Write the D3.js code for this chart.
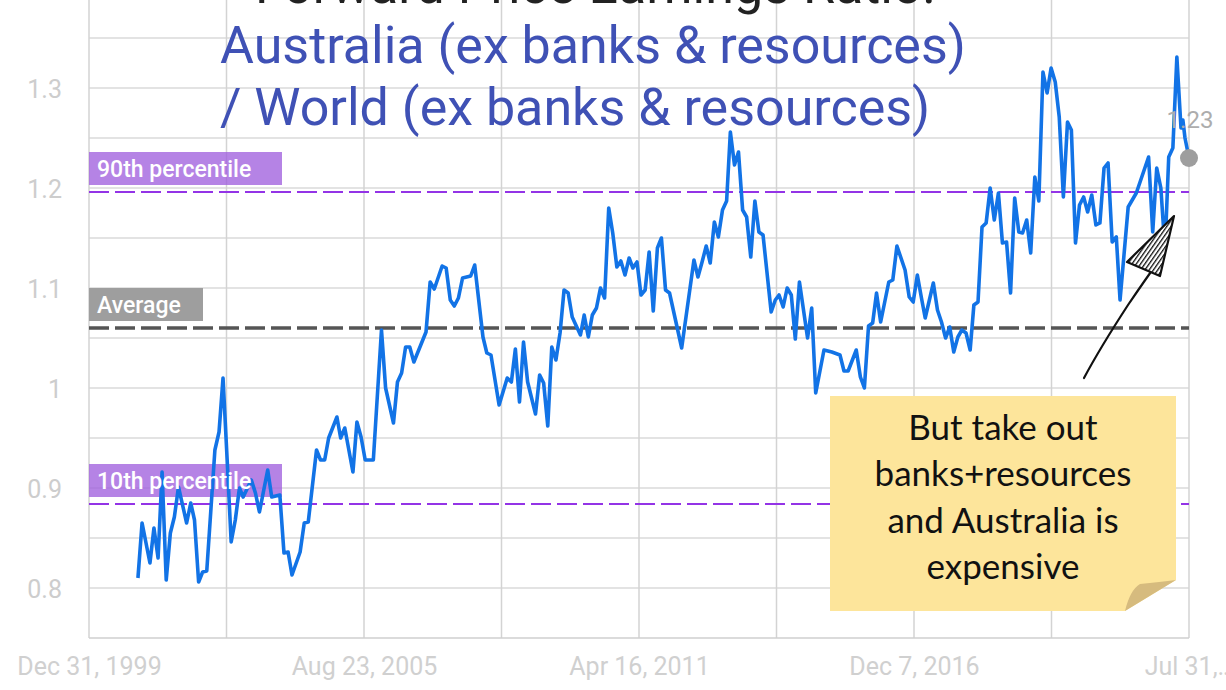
<!DOCTYPE html>
<html>
<head>
<meta charset="utf-8">
<script src="https://cdn.jsdelivr.net/npm/d3@7"></script>
<style>
  html, body { margin: 0; padding: 0; background: #ffffff; overflow: hidden; }
  svg { display: block; }
</style>
</head>
<body>
<svg id="chart" width="1226" height="690"></svg>
<script>
// ---------------- DATA ----------------
const titleLines = ["Forward Price Earnings Ratio:", "Australia (ex banks & resources)", "/ World (ex banks & resources)"];

const dates = [
  "2001-01","2001-02","2001-04","2001-05","2001-06","2001-07","2001-08","2001-09","2001-10","2001-11",
  "2002-01","2002-02","2002-03","2002-04","2002-05","2002-06","2002-08","2002-09","2002-10","2002-11","2002-12",
  "2003-01","2003-02","2003-03","2003-05","2003-06","2003-07","2003-09","2003-10","2003-12",
  "2004-01","2004-02","2004-03","2004-05","2004-06","2004-07","2004-09","2004-10","2004-11","2004-12",
  "2005-02","2005-03","2005-04","2005-06","2005-07","2005-08","2005-09","2005-11",
  "2006-01","2006-02","2006-04","2006-05","2006-06","2006-07","2006-08","2006-09","2006-12",
  "2007-01","2007-02","2007-04","2007-05","2007-06","2007-07","2007-08","2007-09","2007-11","2007-12",
  "2008-02","2008-03","2008-04","2008-06","2008-08","2008-09","2008-10","2008-11","2008-12",
  "2009-01","2009-03","2009-04","2009-05","2009-06","2009-07","2009-08","2009-09","2009-10","2009-11","2009-12",
  "2010-02","2010-03","2010-04","2010-05","2010-06","2010-07","2010-08","2010-09","2010-10","2010-11","2010-12",
  "2011-01","2011-02","2011-03","2011-04","2011-05","2011-06","2011-07","2011-08","2011-09","2011-10","2011-11","2011-12",
  "2012-03","2012-06","2012-07","2012-08","2012-09","2012-10","2012-11","2012-12",
  "2013-01","2013-02","2013-03","2013-04","2013-05","2013-06","2013-07","2013-08","2013-09","2013-10","2013-11",
  "2014-01","2014-02","2014-03","2014-04","2014-05","2014-06","2014-07","2014-08","2014-10","2014-11","2014-12",
  "2015-02","2015-04","2015-06","2015-07","2015-08","2015-10","2015-11","2015-12",
  "2016-01","2016-02","2016-03","2016-04","2016-06","2016-07","2016-08","2016-10","2016-11","2016-12",
  "2017-01","2017-02","2017-03","2017-05","2017-06","2017-07","2017-08","2017-09","2017-10","2017-11","2017-12",
  "2018-01","2018-02","2018-03","2018-04","2018-05","2018-06","2018-07","2018-08","2018-09","2018-10","2018-11","2018-12",
  "2019-01","2019-02","2019-03","2019-04","2019-05","2019-06","2019-07","2019-08","2019-09","2019-10","2019-11","2019-12",
  "2020-01","2020-02","2020-03","2020-04","2020-05","2020-06","2020-07","2020-08","2020-09","2020-10","2020-11","2020-12",
  "2021-01","2021-02","2021-03","2021-05","2021-07","2021-10","2021-11","2021-12",
  "2022-01","2022-02","2022-03","2022-04","2022-05","2022-06","2022-06-15","2022-07-01","2022-07-31"
];

const ratio = [
  0.810,0.865,0.825,0.860,0.830,0.916,0.808,0.855,0.871,0.901,
  0.865,0.885,0.868,0.806,0.816,0.817,0.938,0.956,1.010,0.928,0.846,
  0.868,0.900,0.891,0.908,0.895,0.876,0.918,0.891,0.893,
  0.835,0.836,0.813,0.836,0.865,0.866,0.938,0.928,0.928,0.950,
  0.971,0.950,0.960,0.916,0.966,0.951,0.928,0.928,
  1.058,1.000,0.965,1.006,1.015,1.041,1.041,1.026,1.056,
  1.106,1.099,1.122,1.120,1.088,1.082,1.090,1.110,1.112,1.123,
  1.051,1.035,1.033,0.983,1.010,1.006,1.039,0.986,1.046,
  1.006,0.974,1.013,1.005,0.962,1.041,1.028,1.055,1.098,1.095,1.071,
  1.053,1.073,1.051,1.073,1.080,1.100,1.090,1.180,1.155,1.121,1.127,
  1.113,1.130,1.120,1.126,1.093,1.098,1.136,1.077,1.140,1.150,1.098,1.095,
  1.040,1.128,1.111,1.126,1.142,1.125,1.166,1.151,
  1.178,1.187,1.256,1.223,1.236,1.178,1.171,1.131,1.187,1.156,1.153,
  1.076,1.088,1.093,1.081,1.100,1.093,1.049,1.106,1.050,1.080,0.995,
  1.038,1.036,1.033,1.017,1.017,1.038,1.011,1.000,
  1.062,1.065,1.095,1.066,1.106,1.108,1.142,1.118,1.091,1.086,
  1.113,1.090,1.070,1.105,1.078,1.066,1.050,1.061,1.036,1.051,1.058,
  1.055,1.038,1.083,1.086,1.161,1.165,1.200,1.168,1.195,1.145,1.146,1.095,
  1.190,1.156,1.155,1.168,1.135,1.211,1.187,1.316,1.295,1.320,1.306,1.271,
  1.191,1.266,1.258,1.145,1.183,1.191,1.176,1.193,1.163,1.165,1.220,1.225,
  1.146,1.151,1.088,1.181,1.195,1.231,1.156,1.220,
  1.200,1.138,1.231,1.240,1.331,1.260,1.268,1.250,1.230
];

const refNames  = ["90th percentile", "Average", "10th percentile"];
const refValues = [1.196, 1.06, 0.884];
const refColors = ["#9334e6", "#555555", "#9334e6"];
const refBoxColors = ["rgba(160,96,222,0.78)", "#9e9e9e", "rgba(160,96,222,0.78)"];

const yTickValues = [0.8, 0.9, 1.0, 1.1, 1.2, 1.3];
const yTickLabels = ["0.8", "0.9", "1", "1.1", "1.2", "1.3"];
const xTickDateStrings = ["1999-12-31", "2005-08-23", "2011-04-16", "2016-12-07", "2022-07-31"];
const xTickLabels = ["Dec 31, 1999", "Aug 23, 2005", "Apr 16, 2011", "Dec 7, 2016", "Jul 31,\u2026"];

const lastLabel = "1.23";
const noteLines = ["But take out", "banks+resources", "and Australia is", "expensive"];

// ---------------- CHART ----------------
const svg = d3.select("#chart");
const xTickDates = xTickDateStrings.map(s => new Date(s));

const x = d3.scaleUtc()
  .domain([xTickDates[0], xTickDates[xTickDates.length - 1]])
  .range([89, 1189]);
const y = d3.scaleLinear().domain([0.75, 1.40]).range([638, -12]);

// vertical grid: labelled dates plus midpoints
const xGrid = [];
xTickDates.forEach((d, i) => {
  xGrid.push(d);
  if (i < xTickDates.length - 1) xGrid.push(new Date((+d + +xTickDates[i + 1]) / 2));
});
const yGrid = d3.range(0.80, 1.41, 0.05);

const grid = svg.append("g");
grid.selectAll("line.h").data(yGrid).join("line")
  .attr("x1", 89).attr("x2", 1189)
  .attr("y1", d => y(d)).attr("y2", d => y(d))
  .attr("stroke", "#dadada").attr("stroke-width", 1.5);
grid.selectAll("line.v").data(xGrid).join("line")
  .attr("x1", d => x(d)).attr("x2", d => x(d))
  .attr("y1", 0).attr("y2", 638)
  .attr("stroke", "#d3d3d3").attr("stroke-width", 1.5);
svg.append("line").attr("x1", 89).attr("x2", 1189).attr("y1", y(0.75)).attr("y2", y(0.75))
  .attr("stroke", "#cfcfcf").attr("stroke-width", 1.5);

// y axis labels
const yAxis = d3.axisLeft(y).tickValues(yTickValues)
  .tickFormat((d, i) => yTickLabels[i]).tickSize(0).tickPadding(0);
const yAxisG = svg.append("g").attr("transform", "translate(62,0)").call(yAxis);
yAxisG.select(".domain").remove();
yAxisG.selectAll("text").attr("font-family", "Roboto, sans-serif").attr("font-size", 25)
  .attr("fill", "#cdcdcd").attr("dy", "0.36em");

// x axis labels
const xAxis = d3.axisBottom(x).tickValues(xTickDates)
  .tickFormat((d, i) => xTickLabels[i]).tickSize(0).tickPadding(0);
const xAxisG = svg.append("g").attr("transform", "translate(0,657)").call(xAxis);
xAxisG.select(".domain").remove();
xAxisG.selectAll("text").attr("font-family", "Roboto, sans-serif").attr("font-size", 25)
  .attr("fill", "#d0d0d0").attr("dy", "0.72em");

// title
const title = svg.append("g").attr("font-family", "Roboto, sans-serif").attr("font-size", 52);
title.append("text").attr("x", 255).attr("y", 3).attr("fill", "#222").text(titleLines[0]);
title.append("text").attr("x", 220).attr("y", 63).attr("fill", "#3f51b5").text(titleLines[1]);
title.append("text").attr("x", 220).attr("y", 125).attr("fill", "#3f51b5").text(titleLines[2]);

// reference lines
refValues.forEach((v, i) => {
  svg.append("line")
    .attr("x1", 89).attr("x2", 1189).attr("y1", y(v)).attr("y2", y(v))
    .attr("stroke", refColors[i])
    .attr("stroke-width", i === 1 ? 3.5 : 2)
    .attr("stroke-dasharray", "20,6");
});
const boxW = [193, 114, 193];
refValues.forEach((v, i) => {
  svg.append("rect")
    .attr("x", 89).attr("y", y(v) - 40).attr("width", boxW[i]).attr("height", 33)
    .attr("fill", refBoxColors[i]);
});

// data line
const data = dates.map((d, i) => ({ date: new Date(d), value: ratio[i] }));
const line = d3.line().x(d => x(d.date)).y(d => y(d.value));
svg.append("path").datum(data)
  .attr("d", line)
  .attr("fill", "none")
  .attr("stroke", "#1273e6")
  .attr("stroke-width", 3.6)
  .attr("stroke-linejoin", "round");

// reference label texts
refValues.forEach((v, i) => {
  svg.append("text")
    .attr("x", 97).attr("y", y(v) - 15)
    .attr("font-family", "Roboto, sans-serif").attr("font-size", 23).attr("font-weight", 500)
    .attr("fill", "#ffffff").text(refNames[i]);
});

// last value point + label
const last = data[data.length - 1];
svg.append("circle").attr("cx", x(last.date)).attr("cy", y(last.value)).attr("r", 9)
  .attr("fill", "#9e9e9e");
svg.append("text").attr("x", x(last.date) + 1).attr("y", y(last.value) - 30)
  .attr("text-anchor", "middle")
  .attr("font-family", "Roboto, sans-serif").attr("font-size", 24)
  .attr("fill", "#adadad").text(lastLabel);

// sticky note annotation
const note = svg.append("g");
note.append("path")
  .attr("d", "M830,396 L1176,396 L1176,580 L1125,611 L830,611 Z")
  .attr("fill", "#fde59b");
note.append("path")
  .attr("d", "M1125,611 Q1130,590 1140,584 Q1160,582 1176,580 Z")
  .attr("fill", "#d6bb7e");
noteLines.forEach((t, i) => {
  note.append("text")
    .attr("x", 1003).attr("y", 440 + i * 46.3)
    .attr("text-anchor", "middle")
    .attr("font-family", "Lato, sans-serif").attr("font-size", 35)
    .attr("fill", "#111").text(t);
});

// hand drawn arrow
const defs = svg.append("defs");
const pat = defs.append("pattern").attr("id", "hatch").attr("patternUnits", "userSpaceOnUse")
  .attr("width", 3.5).attr("height", 3.5).attr("patternTransform", "rotate(35)");
pat.append("rect").attr("width", 3.5).attr("height", 3.5).attr("fill", "#ffffff");
pat.append("line").attr("x1", 0).attr("y1", 0).attr("x2", 0).attr("y2", 3.5)
  .attr("stroke", "#111").attr("stroke-width", 2.6);
svg.append("path").attr("d", "M1084,378 Q1100,348 1128,305 Q1145,280 1158,262")
  .attr("fill", "none").attr("stroke", "#111").attr("stroke-width", 2.2).attr("stroke-linecap", "round");
svg.append("path").attr("d", "M1174,216 L1127,262 L1160,276 Z")
  .attr("fill", "url(#hatch)").attr("stroke", "#111").attr("stroke-width", 2.2)
  .attr("stroke-linejoin", "round");
</script>
</body>
</html>
